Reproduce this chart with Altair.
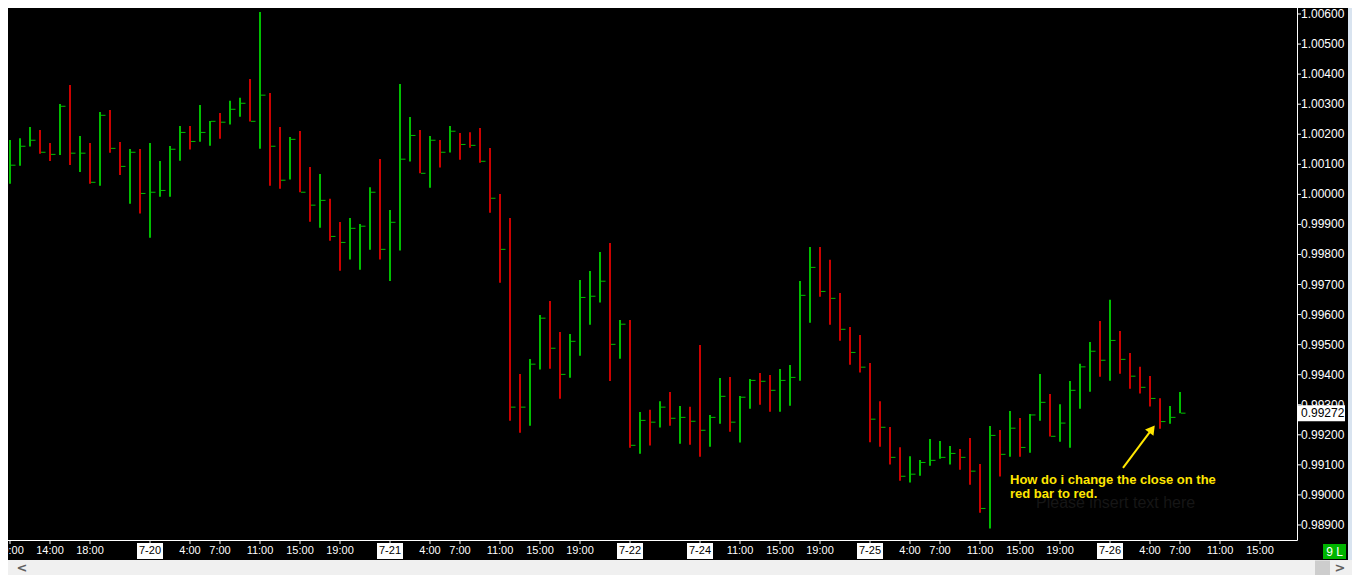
import altair as alt
import pandas as pd

# ---------------- data ----------------
high = [1.00181, 1.00187, 1.00224, 1.00214, 1.00171, 1.00301, 1.00364, 1.00194, 1.00171, 1.00274,
        1.00281, 1.00174, 1.00151, 1.00151, 1.00171, 1.00111, 1.00161, 1.00227, 1.00227, 1.00297,
        1.00244, 1.00271, 1.00311, 1.00321, 1.00384, 1.00607, 1.00337, 1.00224, 1.00191, 1.00211,
        1.00091, 1.00068, 0.99985, 0.99908, 0.99921, 0.99901, 1.00024, 1.00118, 0.99948, 1.00367,
        1.00257, 1.00214, 1.00194, 1.00181, 1.00227, 1.00204, 1.00207, 1.00221, 1.00154, 1.00001,
        0.99921, 0.99402, 0.99452, 0.99599, 0.99645, 0.99542, 0.99535, 0.99715, 0.99745, 0.99808,
        0.99838, 0.99582, 0.99582, 0.99276, 0.99283, 0.99312, 0.99342, 0.99296, 0.99293, 0.99499,
        0.99266, 0.99389, 0.99392, 0.99329, 0.99386, 0.99406, 0.99399, 0.99419, 0.99432, 0.99712,
        0.99825, 0.99825, 0.99782, 0.99672, 0.99559, 0.99532, 0.99439, 0.99312, 0.99226, 0.99159,
        0.99129, 0.99116, 0.99186, 0.99179, 0.99163, 0.99153, 0.99189, 0.99103, 0.99229, 0.99216,
        0.99279, 0.99256, 0.99269, 0.99402, 0.99336, 0.99302, 0.99379, 0.99436, 0.99509, 0.99579,
        0.99649, 0.99545, 0.99472, 0.99426, 0.99396, 0.99322, 0.99296, 0.99342]

low = [1.00035, 1.00095, 1.00159, 1.00135, 1.00111, 1.00131, 1.00098, 1.00074, 1.00035, 1.00029,
       1.00138, 1.00064, 0.99969, 0.99936, 0.99856, 0.99992, 0.99992, 1.00112, 1.00149, 1.00175,
       1.00162, 1.00185, 1.00232, 1.00258, 1.00242, 1.00152, 1.00029, 1.00019, 1.00049, 1.00007,
       0.99909, 0.99889, 0.99846, 0.99746, 0.99783, 0.99749, 0.99816, 0.99783, 0.99712, 0.99813,
       1.00109, 1.00070, 1.00022, 1.00089, 1.00139, 1.00115, 1.00155, 1.00105, 0.99939, 0.99706,
       0.99247, 0.99207, 0.99230, 0.99417, 0.99420, 0.99320, 0.99390, 0.99463, 0.99566, 0.99640,
       0.99379, 0.99453, 0.99157, 0.99137, 0.99164, 0.99224, 0.99230, 0.99170, 0.99167, 0.99127,
       0.99160, 0.99237, 0.99210, 0.99174, 0.99287, 0.99300, 0.99277, 0.99277, 0.99297, 0.99380,
       0.99573, 0.99659, 0.99566, 0.99513, 0.99433, 0.99407, 0.99175, 0.99160, 0.99101, 0.99047,
       0.99041, 0.99064, 0.99097, 0.99120, 0.99101, 0.99084, 0.99034, 0.98941, 0.98888, 0.99061,
       0.99127, 0.99127, 0.99140, 0.99247, 0.99194, 0.99177, 0.99157, 0.99287, 0.99343, 0.99393,
       0.99380, 0.99403, 0.99353, 0.99337, 0.99294, 0.99220, 0.99237, 0.99272]

close = [1.00097, 1.00160, 1.00180, 1.00140, 1.00133, 1.00293, 1.00137, 1.00137, 1.00040, 1.00263,
         1.00153, 1.00093, 1.00140, 1.00003, 1.00007, 1.00013, 1.00150, 1.00206, 1.00176, 1.00206,
         1.00243, 1.00240, 1.00283, 1.00303, 1.00243, 1.00330, 1.00160, 1.00047, 1.00183, 1.00007,
         0.99964, 0.99980, 0.99860, 0.99840, 0.99887, 0.99894, 1.00007, 0.99817, 0.99907, 1.00117,
         1.00196, 1.00070, 1.00180, 1.00140, 1.00210, 1.00166, 1.00163, 1.00110, 0.99987, 0.99817,
         0.99292, 0.99292, 0.99435, 0.99588, 0.99488, 0.99401, 0.99511, 0.99657, 0.99661, 0.99711,
         0.99501, 0.99568, 0.99165, 0.99248, 0.99242, 0.99292, 0.99255, 0.99258, 0.99245, 0.99215,
         0.99258, 0.99328, 0.99242, 0.99325, 0.99381, 0.99378, 0.99348, 0.99381, 0.99391, 0.99664,
         0.99757, 0.99677, 0.99654, 0.99551, 0.99474, 0.99425, 0.99252, 0.99225, 0.99125, 0.99062,
         0.99069, 0.99108, 0.99115, 0.99125, 0.99138, 0.99125, 0.99079, 0.98955, 0.99198, 0.99135,
         0.99222, 0.99158, 0.99266, 0.99308, 0.99195, 0.99239, 0.99348, 0.99426, 0.99478, 0.99448,
         0.99514, 0.99451, 0.99395, 0.99358, 0.99321, 0.99244, 0.99258, 0.99272]

direction = list("UUUDDUDUDU" "DDUDUUUUDU" "UDUUDUDDUD" "DUDDUUUDUU"
                 "UDUDUDDDDD" "DDUUDDUUUU" "DUDUDUDUDD" "UUDUUDDUUU"
                 "UDDDDDDDDD" "UUUUUDDDUD" "UDUUDUUUUD" "UDDDDDUU")

x_tick_idx = [0, 4, 8, 14, 18, 21, 25, 29, 33, 38, 42, 45, 49, 53, 57, 62,
              69, 73, 77, 81, 86, 90, 93, 97, 101, 105, 110, 114, 117, 121, 125]
x_tick_labels = ["10:00", "14:00", "18:00", "7-20", "4:00", "7:00", "11:00", "15:00", "19:00",
                 "7-21", "4:00", "7:00", "11:00", "15:00", "19:00", "7-22",
                 "7-24", "11:00", "15:00", "19:00", "7-25", "4:00", "7:00", "11:00", "15:00",
                 "19:00", "7-26", "4:00", "7:00", "11:00", "15:00"]
y_ticks = [0.989, 0.990, 0.991, 0.992, 0.993, 0.994, 0.995, 0.996, 0.997, 0.998,
           0.999, 1.000, 1.001, 1.002, 1.003, 1.004, 1.005, 1.006]
last_price = [0.99272]

note_lines = ["How do i change the close on the", "red bar to red."]
note_idx = [100.0, 100.0]
note_price = [0.99050, 0.99003]
ghost_text = ["Please insert text here"]
ghost_pos = [102.6, 0.98972]
arrow_tail = [111.3, 0.99090]
arrow_tip = [114.2, 0.99219]

# ---------------- layout / style ----------------
W, H = 1289, 532          # plot area (page x 8..1297, y 8..540)
TOTAL_W, TOTAL_H = 1344, 567
GREEN = "#00BE00"
RED = "#CC0000"
YELLOW = "#FFE600"
FONT = "Liberation Sans"

bars = pd.DataFrame({"idx": list(range(len(high))), "high": high, "low": low,
                     "close": close, "dir": ["up" if d == "U" else "down" for d in direction]})
ticks = pd.DataFrame({"idx": x_tick_idx, "label": x_tick_labels})
ticks["is_date"] = ticks["label"].str.contains("-")
yt = pd.DataFrame({"p": y_ticks, "t": ["%.5f" % v for v in y_ticks]})
one = alt.Data(values=[{"a": 0}])

xs = alt.Scale(domain=[-0.2, 128.7], nice=False, zero=False)
ys = alt.Scale(domain=[0.98850, 1.00620], nice=False, zero=False)


def X(f):
    return alt.X(f, scale=xs, axis=None)


def Y(f):
    return alt.Y(f, scale=ys, axis=None)


base = alt.Chart(bars)

hl = base.mark_rule(strokeWidth=2).encode(
    x=X("idx:Q"), y=Y("low:Q"), y2="high:Q",
    color=alt.Color("dir:N", scale=alt.Scale(domain=["up", "down"], range=[GREEN, RED]), legend=None),
)

cl = base.transform_calculate(cx1="datum.idx + 0.1", cx2="datum.idx + 0.55").mark_rule(
    strokeWidth=1, color=GREEN).encode(x=X("cx1:Q"), x2="cx2:Q", y=Y("close:Q"))

# ---- axes drawn as marks ----
y_domain = alt.Chart(one).mark_rule(color="white", strokeWidth=1).encode(
    x=alt.value(W + 0.5), y=alt.value(-8), y2=alt.value(H + 0.5))
x_domain = alt.Chart(one).mark_rule(color="white", strokeWidth=1).encode(
    y=alt.value(H + 0.5), x=alt.value(-8), x2=alt.value(W + 0.5))
y_tick_marks = alt.Chart(yt).mark_rule(color="white", strokeWidth=1).encode(
    y=Y("p:Q"), x=alt.value(W), x2=alt.value(W + 4))
y_tick_text = alt.Chart(yt).mark_text(font=FONT, fontSize=12, color="white", align="left",
                                      baseline="middle").encode(
    y=Y("p:Q"), x=alt.value(W + 4), text="t:N")
x_tick_marks = alt.Chart(ticks).mark_rule(color="white", strokeWidth=1).encode(
    x=X("idx:Q"), y=alt.value(H), y2=alt.value(H + 4))
date_boxes = alt.Chart(ticks).transform_filter("datum.is_date").mark_rule(
    strokeWidth=26, color="white", strokeCap="butt").encode(
    x=X("idx:Q"), y=alt.value(H + 3), y2=alt.value(H + 19))
x_labels = alt.Chart(ticks).mark_text(font=FONT, fontSize=11, baseline="middle",
                                      align="center").encode(
    x=X("idx:Q"), y=alt.value(H + 11), text="label:N",
    color=alt.condition("datum.is_date", alt.value("black"), alt.value("white")),
)

# last price box on the right axis
lp = pd.DataFrame({"p": last_price, "t": ["%.5f" % v for v in last_price]})
lp_box = alt.Chart(lp).mark_rule(strokeWidth=16, color="white", strokeCap="butt").encode(
    y=Y("p:Q"), x=alt.value(W + 1), x2=alt.value(W + 48))
lp_text = alt.Chart(lp).mark_text(font=FONT, fontSize=12, align="left",
                                  baseline="middle", color="black").encode(
    y=Y("p:Q"), x=alt.value(W + 4), text="t:N")

# annotation
notes = pd.DataFrame({"idx": note_idx, "p": note_price, "t": note_lines})
note_text = alt.Chart(notes).mark_text(font=FONT, fontSize=13, fontWeight="bold", align="left",
                                       baseline="middle", color=YELLOW).encode(
    x=X("idx:Q"), y=Y("p:Q"), text="t:N")
ghost = alt.Chart(pd.DataFrame({"idx": [ghost_pos[0]], "p": [ghost_pos[1]], "t": ghost_text})).mark_text(
    font=FONT, fontSize=16, align="left", baseline="middle", color="#161616").encode(
    x=X("idx:Q"), y=Y("p:Q"), text="t:N")
arr = pd.DataFrame({"x1": [arrow_tail[0]], "y1": [arrow_tail[1]],
                    "x2": [arrow_tip[0]], "y2": [arrow_tip[1]]})
arrow_line = alt.Chart(arr).mark_rule(strokeWidth=2, color=YELLOW).encode(
    x=X("x1:Q"), x2="x2:Q", y=Y("y1:Q"), y2="y2:Q")
arrow_head = alt.Chart(arr).mark_point(shape="triangle-up", filled=True, size=110, angle=37,
                                       color=YELLOW, opacity=1).encode(
    x=X("x2:Q"), y=Y("y2:Q"))

# window chrome (scroll bar, side strip, status badge)
scroll = alt.Chart(one).mark_rule(strokeWidth=20, color="#F0F0F0", strokeCap="butt").encode(
    x=alt.value(-8), x2=alt.value(TOTAL_W), y=alt.value(562))
scroll_thumb = alt.Chart(one).mark_rule(strokeWidth=15, color="#CDCDCD", strokeCap="butt").encode(
    x=alt.value(1307), x2=alt.value(1322), y=alt.value(560))
arrows_txt = alt.Chart(alt.Data(values=[{"x": 14, "t": "<"}, {"x": 1332, "t": ">"}])).mark_text(
    font="DejaVu Sans", fontSize=13, fontWeight="bold", color="#606060", baseline="middle").encode(
    x=alt.X("x:Q", scale=None, axis=None), y=alt.value(560), text="t:N")
side = alt.Chart(one).mark_rule(strokeWidth=4, color="#D9E4F0", strokeCap="butt").encode(
    x=alt.value(1342), y=alt.value(-8), y2=alt.value(552))
badge = alt.Chart(one).mark_rule(strokeWidth=15, color="#00B400", strokeCap="butt").encode(
    x=alt.value(1315), x2=alt.value(1338), y=alt.value(543.5))
badge_txt = alt.Chart(one).mark_text(font=FONT, fontSize=12, color="white",
                                     baseline="middle", align="center", text="9 L").encode(
    x=alt.value(1326.5), y=alt.value(544))

chart = alt.layer(
    hl, cl, y_domain, x_domain, y_tick_marks, y_tick_text, x_tick_marks, date_boxes, x_labels,
    lp_box, lp_text, ghost, note_text, arrow_line, arrow_head,
    scroll, scroll_thumb, arrows_txt, side, badge, badge_txt,
).properties(
    width=W, height=H,
    autosize=alt.AutoSizeParams(type="none"),
    padding={"left": 0, "top": 0, "right": TOTAL_W - W, "bottom": TOTAL_H - H},
).configure(background="black").configure_view(strokeWidth=0)

chart.save("out.html", embed_options={"renderer": "svg", "actions": False})
